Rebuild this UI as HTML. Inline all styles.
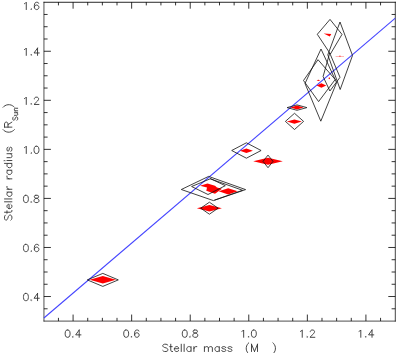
<!DOCTYPE html>
<html><head><meta charset="utf-8"><title>Stellar mass-radius</title>
<style>html,body{margin:0;padding:0;background:#fff;overflow:hidden}svg{display:block}text{font-family:"Liberation Sans",sans-serif}</style></head>
<body>
<svg width="399" height="353" viewBox="0 0 399 353" style="display:block">
<rect width="399" height="353" fill="#fff"/>
<g stroke="#000" fill="none" stroke-linecap="butt">
<path d="M43.94 1.8V321.5" stroke-width="0.68"/>
<path d="M43.6 2.27H395.8" stroke-width="0.85"/>
<path d="M395.3 1.8V321.5" stroke-width="0.74"/>
<path d="M43.6 321.1H395.8" stroke-width="0.7"/>
<path d="M58.44 321.05v-3.2M58.44 2.2v3.2M73.08 321.05v-6.5M73.08 2.2v6.5M87.73 321.05v-3.2M87.73 2.2v3.2M102.37 321.05v-3.2M102.37 2.2v3.2M117.01 321.05v-3.2M117.01 2.2v3.2M131.65 321.05v-6.5M131.65 2.2v6.5M146.29 321.05v-3.2M146.29 2.2v3.2M160.93 321.05v-3.2M160.93 2.2v3.2M175.58 321.05v-3.2M175.58 2.2v3.2M190.22 321.05v-6.5M190.22 2.2v6.5M204.86 321.05v-3.2M204.86 2.2v3.2M219.50 321.05v-3.2M219.50 2.2v3.2M234.14 321.05v-3.2M234.14 2.2v3.2M248.78 321.05v-6.5M248.78 2.2v6.5M263.43 321.05v-3.2M263.43 2.2v3.2M278.07 321.05v-3.2M278.07 2.2v3.2M292.71 321.05v-3.2M292.71 2.2v3.2M307.35 321.05v-6.5M307.35 2.2v6.5M321.99 321.05v-3.2M321.99 2.2v3.2M336.63 321.05v-3.2M336.63 2.2v3.2M351.27 321.05v-3.2M351.27 2.2v3.2M365.92 321.05v-6.5M365.92 2.2v6.5M380.56 321.05v-3.2M380.56 2.2v3.2M43.9 308.79h3.7M395.3 308.79h-3.7M43.9 296.52h7.0M395.3 296.52h-7.0M43.9 284.26h3.7M395.3 284.26h-3.7M43.9 272.00h3.7M395.3 272.00h-3.7M43.9 259.73h3.7M395.3 259.73h-3.7M43.9 247.47h7.0M395.3 247.47h-7.0M43.9 235.21h3.7M395.3 235.21h-3.7M43.9 222.94h3.7M395.3 222.94h-3.7M43.9 210.68h3.7M395.3 210.68h-3.7M43.9 198.42h7.0M395.3 198.42h-7.0M43.9 186.15h3.7M395.3 186.15h-3.7M43.9 173.89h3.7M395.3 173.89h-3.7M43.9 161.63h3.7M395.3 161.63h-3.7M43.9 149.36h7.0M395.3 149.36h-7.0M43.9 137.10h3.7M395.3 137.10h-3.7M43.9 124.83h3.7M395.3 124.83h-3.7M43.9 112.57h3.7M395.3 112.57h-3.7M43.9 100.31h7.0M395.3 100.31h-7.0M43.9 88.04h3.7M395.3 88.04h-3.7M43.9 75.78h3.7M395.3 75.78h-3.7M43.9 63.52h3.7M395.3 63.52h-3.7M43.9 51.25h7.0M395.3 51.25h-7.0M43.9 38.99h3.7M395.3 38.99h-3.7M43.9 26.73h3.7M395.3 26.73h-3.7M43.9 14.46h3.7M395.3 14.46h-3.7" stroke-width="0.8"/>
</g>
<line x1="43.9" y1="318.0" x2="395.3" y2="18.1" stroke="#4444ff" stroke-width="1.05"/>
<path d="M89.7 279.8L102.8 276.0L115.9 279.8L102.8 283.6ZM196.9 208.2L209.4 205.0L221.9 208.2L209.4 211.4ZM200 185.7L207.5 183.5L215 185.7L217 187.5L222 188.8L215 193.8L206.3 190.7L207 187.5ZM218.7 191.3L228.2 188.2L237.7 191.3L228.2 194.4ZM239.9 150.8L246.4 148.6L252.9 150.8L246.4 153.0ZM253.2 161.3L268.0 157.8L282.8 161.3L268.0 164.8ZM290.4 107.6L297.0 105.6L303.6 107.6L297.0 109.6ZM286.9 121.6L294.4 119.4L301.9 121.6L294.4 123.8ZM323.7 33.6L331.3 34.1L329.8 36.4ZM339.2 55.8h1.4v1h-1.4ZM316.6 85.5L321.4 83.2L326.2 85.5L321.4 87.8ZM316.6 80.3L318.4 79.7L320.2 80.3L318.4 80.9ZM328.4 78.2L329.3 77.2L330.2 78.2L329.3 79.2Z" fill="#ff0000"/>
<path d="M335.6 56.05h8.4v0.5h-8.4Z" fill="#ff7070"/>
<path d="M87.3 279.9L102.8 273.4L118.3 279.9L102.8 286.4ZM200.7 208.2L209.4 202.2L218.1 208.2L209.4 214.2ZM191.6 186.5L210.5 178.7L225.3 185.7L208.0 194.5ZM181.3 189.5L208.6 176.4L245.6 189.6L213.4 200.6ZM210 178.7L242.6 190.3L214.5 200.1M231.7 150.5L246.4 142.8L261.1 150.5L246.4 158.2ZM263.0 161.4L268.0 155.1L273.0 161.4L268.0 167.7ZM287.1 107.6L297.0 104.9L306.9 107.6L297.0 110.3ZM285.4 121.4L294.5 113.3L303.6 121.4L294.5 129.5ZM317.3 34.3L330.0 19.4L342.0 34.4L330.4 54.0ZM327.8 54.8L340.0 22.0L352.5 55.5L340.2 89.5ZM305.0 83.5L321.0 49.0L336.6 82.6L320.8 121.2ZM303.5 80.5L318.0 59.7L335.2 79.5L318.6 101.6ZM323.1 76.5L329.7 53.0L340.0 77.3L329.9 91.0Z" fill="none" stroke="#111" stroke-width="0.8" stroke-linejoin="miter"/>
<path d="M67.27 329.99L66.21 330.34L65.51 331.38L65.16 333.12L65.16 334.17L65.51 335.91L66.21 336.95L67.27 337.30L67.97 337.30L69.02 336.95L69.72 335.91L70.08 334.17L70.08 333.12L69.72 331.38L69.02 330.34L67.97 329.99L67.27 329.99M72.88 336.60L72.53 336.95L72.88 337.30L73.23 336.95L72.88 336.60M79.20 329.99L75.69 334.86L80.96 334.86M79.20 329.99L79.20 337.30M125.83 329.99L124.78 330.34L124.08 331.38L123.73 333.12L123.73 334.17L124.08 335.91L124.78 336.95L125.83 337.30L126.54 337.30L127.59 336.95L128.29 335.91L128.64 334.17L128.64 333.12L128.29 331.38L127.59 330.34L126.54 329.99L125.83 329.99M131.45 336.60L131.10 336.95L131.45 337.30L131.80 336.95L131.45 336.60M138.82 331.04L138.47 330.34L137.42 329.99L136.72 329.99L135.66 330.34L134.96 331.38L134.61 333.12L134.61 334.86L134.96 336.26L135.66 336.95L136.72 337.30L137.07 337.30L138.12 336.95L138.82 336.26L139.17 335.21L139.17 334.86L138.82 333.82L138.12 333.12L137.07 332.78L136.72 332.78L135.66 333.12L134.96 333.82L134.61 334.86M184.40 329.99L183.35 330.34L182.65 331.38L182.29 333.12L182.29 334.17L182.65 335.91L183.35 336.95L184.40 337.30L185.10 337.30L186.16 336.95L186.86 335.91L187.21 334.17L187.21 333.12L186.86 331.38L186.16 330.34L185.10 329.99L184.40 329.99M190.02 336.60L189.67 336.95L190.02 337.30L190.37 336.95L190.02 336.60M194.58 329.99L193.53 330.34L193.18 331.04L193.18 331.73L193.53 332.43L194.23 332.78L195.63 333.12L196.69 333.47L197.39 334.17L197.74 334.86L197.74 335.91L197.39 336.60L197.04 336.95L195.98 337.30L194.58 337.30L193.53 336.95L193.18 336.60L192.82 335.91L192.82 334.86L193.18 334.17L193.88 333.47L194.93 333.12L196.33 332.78L197.04 332.43L197.39 331.73L197.39 331.04L197.04 330.34L195.98 329.99L194.58 329.99M241.91 331.38L242.62 331.04L243.67 329.99L243.67 337.30M248.58 336.60L248.23 336.95L248.58 337.30L248.93 336.95L248.58 336.60M253.50 329.99L252.44 330.34L251.74 331.38L251.39 333.12L251.39 334.17L251.74 335.91L252.44 336.95L253.50 337.30L254.20 337.30L255.25 336.95L255.95 335.91L256.31 334.17L256.31 333.12L255.95 331.38L255.25 330.34L254.20 329.99L253.50 329.99M300.48 331.38L301.18 331.04L302.24 329.99L302.24 337.30M307.15 336.60L306.80 336.95L307.15 337.30L307.50 336.95L307.15 336.60M310.31 331.73L310.31 331.38L310.66 330.69L311.01 330.34L311.71 329.99L313.12 329.99L313.82 330.34L314.17 330.69L314.52 331.38L314.52 332.08L314.17 332.78L313.47 333.82L309.96 337.30L314.87 337.30M359.05 331.38L359.75 331.04L360.80 329.99L360.80 337.30M365.72 336.60L365.37 336.95L365.72 337.30L366.07 336.95L365.72 336.60M372.03 329.99L368.52 334.86L373.79 334.86M372.03 329.99L372.03 337.30M25.57 293.39L24.51 293.73L23.81 294.77L23.46 296.51L23.46 297.55L23.81 299.29L24.51 300.33L25.57 300.67L26.27 300.67L27.33 300.33L28.03 299.29L28.38 297.55L28.38 296.51L28.03 294.77L27.33 293.73L26.27 293.39L25.57 293.39M31.20 299.98L30.85 300.33L31.20 300.67L31.55 300.33L31.20 299.98M37.54 293.39L34.02 298.24L39.30 298.24M37.54 293.39L37.54 300.67M25.57 244.33L24.51 244.68L23.81 245.72L23.46 247.46L23.46 248.50L23.81 250.23L24.51 251.27L25.57 251.62L26.27 251.62L27.33 251.27L28.03 250.23L28.38 248.50L28.38 247.46L28.03 245.72L27.33 244.68L26.27 244.33L25.57 244.33M31.20 250.93L30.85 251.27L31.20 251.62L31.55 251.27L31.20 250.93M38.59 245.37L38.24 244.68L37.18 244.33L36.48 244.33L35.42 244.68L34.72 245.72L34.37 247.46L34.37 249.19L34.72 250.58L35.42 251.27L36.48 251.62L36.83 251.62L37.89 251.27L38.59 250.58L38.94 249.54L38.94 249.19L38.59 248.15L37.89 247.46L36.83 247.11L36.48 247.11L35.42 247.46L34.72 248.15L34.37 249.19M25.57 195.28L24.51 195.63L23.81 196.67L23.46 198.40L23.46 199.44L23.81 201.18L24.51 202.22L25.57 202.57L26.27 202.57L27.33 202.22L28.03 201.18L28.38 199.44L28.38 198.40L28.03 196.67L27.33 195.63L26.27 195.28L25.57 195.28M31.20 201.87L30.85 202.22L31.20 202.57L31.55 202.22L31.20 201.87M35.78 195.28L34.72 195.63L34.37 196.32L34.37 197.01L34.72 197.71L35.42 198.05L36.83 198.40L37.89 198.75L38.59 199.44L38.94 200.14L38.94 201.18L38.59 201.87L38.24 202.22L37.18 202.57L35.78 202.57L34.72 202.22L34.37 201.87L34.02 201.18L34.02 200.14L34.37 199.44L35.07 198.75L36.13 198.40L37.54 198.05L38.24 197.71L38.59 197.01L38.59 196.32L38.24 195.63L37.18 195.28L35.78 195.28M24.51 147.61L25.22 147.27L26.27 146.22L26.27 153.51M31.20 152.82L30.85 153.16L31.20 153.51L31.55 153.16L31.20 152.82M36.13 146.22L35.07 146.57L34.37 147.61L34.02 149.35L34.02 150.39L34.37 152.12L35.07 153.16L36.13 153.51L36.83 153.51L37.89 153.16L38.59 152.12L38.94 150.39L38.94 149.35L38.59 147.61L37.89 146.57L36.83 146.22L36.13 146.22M24.51 98.56L25.22 98.21L26.27 97.17L26.27 104.46M31.20 103.76L30.85 104.11L31.20 104.46L31.55 104.11L31.20 103.76M34.37 98.91L34.37 98.56L34.72 97.86L35.07 97.52L35.78 97.17L37.18 97.17L37.89 97.52L38.24 97.86L38.59 98.56L38.59 99.25L38.24 99.95L37.54 100.99L34.02 104.46L38.94 104.46M24.51 49.50L25.22 49.16L26.27 48.12L26.27 55.40M31.20 54.71L30.85 55.06L31.20 55.40L31.55 55.06L31.20 54.71M37.54 48.12L34.02 52.97L39.30 52.97M37.54 48.12L37.54 55.40M24.51 3.65L25.22 3.30L26.27 2.26L26.27 9.55M31.20 8.86L30.85 9.20L31.20 9.55L31.55 9.20L31.20 8.86M38.59 3.30L38.24 2.61L37.18 2.26L36.48 2.26L35.42 2.61L34.72 3.65L34.37 5.39L34.37 7.12L34.72 8.51L35.42 9.20L36.48 9.55L36.83 9.55L37.89 9.20L38.59 8.51L38.94 7.47L38.94 7.12L38.59 6.08L37.89 5.39L36.83 5.04L36.48 5.04L35.42 5.39L34.72 6.08L34.37 7.12M167.85 345.25L167.13 344.56L166.04 344.21L164.60 344.21L163.51 344.56L162.79 345.25L162.79 345.95L163.15 346.64L163.51 346.99L164.23 347.34L166.41 348.03L167.13 348.38L167.49 348.72L167.85 349.42L167.85 350.46L167.13 351.15L166.04 351.50L164.60 351.50L163.51 351.15L162.79 350.46M170.75 344.21L170.75 350.11L171.11 351.15L171.84 351.50L172.56 351.50M169.66 346.64L172.20 346.64M174.37 348.72L178.71 348.72L178.71 348.03L178.35 347.34L177.99 346.99L177.27 346.64L176.18 346.64L175.46 346.99L174.73 347.68L174.37 348.72L174.37 349.42L174.73 350.46L175.46 351.15L176.18 351.50L177.27 351.50L177.99 351.15L178.71 350.46M181.25 344.21L181.25 351.50M184.14 344.21L184.14 351.50M191.02 346.64L191.02 351.50M191.02 347.68L190.30 346.99L189.57 346.64L188.49 346.64L187.76 346.99L187.04 347.68L186.68 348.72L186.68 349.42L187.04 350.46L187.76 351.15L188.49 351.50L189.57 351.50L190.30 351.15L191.02 350.46M193.92 346.64L193.92 351.50M193.92 348.72L194.28 347.68L195.00 346.99L195.73 346.64L196.81 346.64M204.42 346.64L204.42 351.50M204.42 348.03L205.50 346.99L206.23 346.64L207.31 346.64L208.04 346.99L208.40 348.03L208.40 351.50M208.40 348.03L209.48 346.99L210.21 346.64L211.29 346.64L212.02 346.99L212.38 348.03L212.38 351.50M219.26 346.64L219.26 351.50M219.26 347.68L218.53 346.99L217.81 346.64L216.72 346.64L216.00 346.99L215.28 347.68L214.91 348.72L214.91 349.42L215.28 350.46L216.00 351.15L216.72 351.50L217.81 351.50L218.53 351.15L219.26 350.46M225.77 347.68L225.41 346.99L224.33 346.64L223.24 346.64L222.15 346.99L221.79 347.68L222.15 348.38L222.88 348.72L224.69 349.07L225.41 349.42L225.77 350.11L225.77 350.46L225.41 351.15L224.33 351.50L223.24 351.50L222.15 351.15L221.79 350.46M231.93 347.68L231.57 346.99L230.48 346.64L229.39 346.64L228.31 346.99L227.95 347.68L228.31 348.38L229.03 348.72L230.84 349.07L231.57 349.42L231.93 350.11L231.93 350.46L231.57 351.15L230.48 351.50L229.39 351.50L228.31 351.15L227.95 350.46M248.78 342.82L248.06 343.52L247.33 344.56L246.61 345.95L246.25 347.68L246.25 349.07L246.61 350.81L247.33 352.19L248.06 353.24L248.78 353.93M251.50 344.21L251.50 351.50M251.50 344.21L254.50 351.50M257.50 344.21L254.50 351.50M257.50 344.21L257.50 351.50M272.89 342.82L273.61 343.52L274.33 344.56L275.06 345.95L275.42 347.68L275.42 349.07L275.06 350.81L274.33 352.19L273.61 353.24L272.89 353.93M5.56 215.10L4.86 215.81L4.51 216.89L4.51 218.33L4.86 219.41L5.56 220.12L6.27 220.12L6.97 219.76L7.32 219.41L7.68 218.69L8.38 216.53L8.73 215.81L9.08 215.46L9.79 215.10L10.84 215.10L11.55 215.81L11.90 216.89L11.90 218.33L11.55 219.41L10.84 220.12M4.51 212.22L10.49 212.22L11.55 211.87L11.90 211.15L11.90 210.43M6.97 213.30L6.97 210.79M9.08 208.63L9.08 204.33L8.38 204.33L7.68 204.69L7.32 205.04L6.97 205.76L6.97 206.84L7.32 207.56L8.03 208.28L9.08 208.63L9.79 208.63L10.84 208.28L11.55 207.56L11.90 206.84L11.90 205.76L11.55 205.04L10.84 204.33M4.51 201.81L11.90 201.81M4.51 198.94L11.90 198.94M6.97 192.12L11.90 192.12M8.03 192.12L7.32 192.84L6.97 193.56L6.97 194.63L7.32 195.35L8.03 196.07L9.08 196.43L9.79 196.43L10.84 196.07L11.55 195.35L11.90 194.63L11.90 193.56L11.55 192.84L10.84 192.12M6.97 189.25L11.90 189.25M9.08 189.25L8.03 188.89L7.32 188.17L6.97 187.45L6.97 186.38M6.97 178.84L11.90 178.84M9.08 178.84L8.03 178.48L7.32 177.76L6.97 177.04L6.97 175.97M6.97 170.22L11.90 170.22M8.03 170.22L7.32 170.94L6.97 171.66L6.97 172.73L7.32 173.45L8.03 174.17L9.08 174.53L9.79 174.53L10.84 174.17L11.55 173.45L11.90 172.73L11.90 171.66L11.55 170.94L10.84 170.22M4.51 163.40L11.90 163.40M8.03 163.40L7.32 164.12L6.97 164.84L6.97 165.91L7.32 166.63L8.03 167.35L9.08 167.71L9.79 167.71L10.84 167.35L11.55 166.63L11.90 165.91L11.90 164.84L11.55 164.12L10.84 163.40M4.51 160.89L4.86 160.53L4.51 160.17L4.16 160.53L4.51 160.89M6.97 160.53L11.90 160.53M6.97 157.66L10.49 157.66L11.55 157.30L11.90 156.58L11.90 155.50L11.55 154.78L10.49 153.71M6.97 153.71L11.90 153.71M8.03 147.25L7.32 147.60L6.97 148.68L6.97 149.76L7.32 150.84L8.03 151.19L8.73 150.84L9.08 150.12L9.44 148.32L9.79 147.60L10.49 147.25L10.84 147.25L11.55 147.60L11.90 148.68L11.90 149.76L11.55 150.84L10.84 151.19M3.10 129.65L3.80 130.37L4.86 131.09L6.27 131.81L8.03 132.16L9.44 132.16L11.20 131.81L12.60 131.09L13.66 130.37L14.36 129.65M4.51 127.14L11.90 127.14M4.51 127.14L4.51 123.91L4.86 122.83L5.21 122.47L5.92 122.11L6.62 122.11L7.32 122.47L7.68 122.83L8.03 123.91L8.03 127.14M8.03 124.62L11.90 122.11M13.47 116.95L13.00 117.42L12.77 118.13L12.77 119.07L13.00 119.78L13.47 120.25L13.94 120.25L14.41 120.01L14.64 119.78L14.88 119.31L15.35 117.90L15.58 117.42L15.82 117.19L16.29 116.95L17.00 116.95L17.46 117.42L17.70 118.13L17.70 119.07L17.46 119.78L17.00 120.25M14.41 115.31L16.76 115.31L17.46 115.08L17.70 114.61L17.70 113.90L17.46 113.43L16.76 112.73M14.41 112.73L17.70 112.73M14.41 110.84L17.70 110.84M15.35 110.84L14.64 110.14L14.41 109.67L14.41 108.97L14.64 108.50L15.35 108.26L17.70 108.26M3.10 107.22L3.80 106.50L4.86 105.79L6.27 105.07L8.03 104.71L9.44 104.71L11.20 105.07L12.60 105.79L13.66 106.50L14.36 107.22" fill="none" stroke="#363636" stroke-width="0.92" stroke-linecap="round" stroke-linejoin="round"/>
</svg>
</body></html>
